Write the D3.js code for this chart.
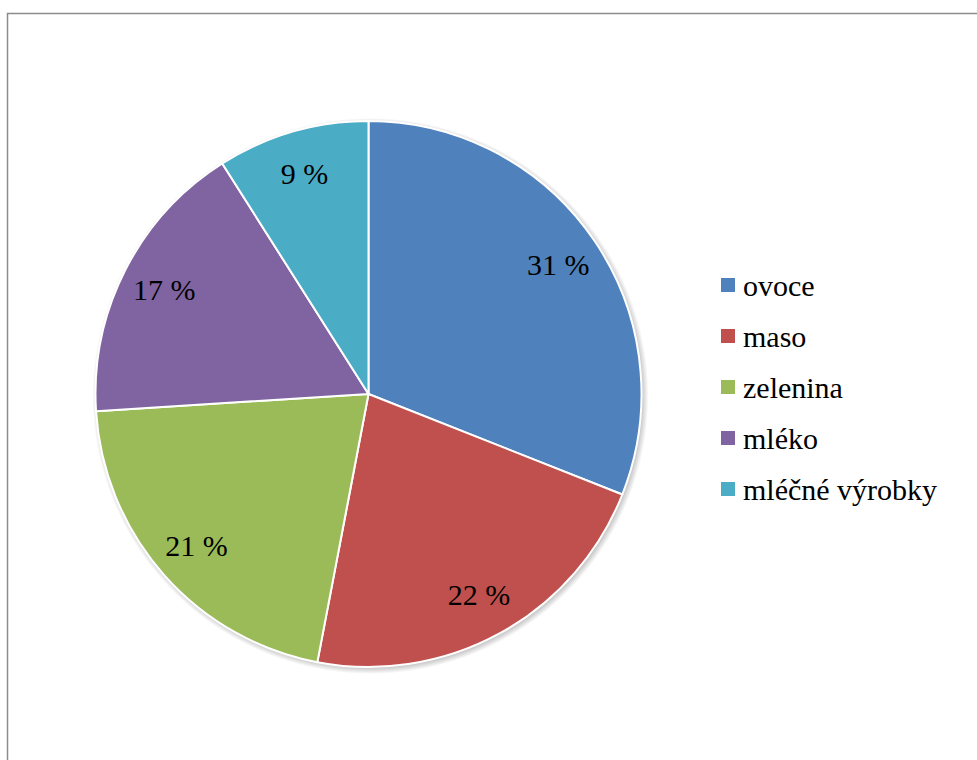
<!DOCTYPE html>
<html>
<head>
<meta charset="utf-8">
<script src="https://cdn.jsdelivr.net/npm/d3@7"></script>
<style>
  html, body { margin: 0; padding: 0; background: #fff; font-family: "Liberation Serif", "Tinos", serif !important; }
  svg { display: block; font-family: "Liberation Serif", "Tinos", serif !important; }
  svg text, text.lbl, text.key { font-family: "Liberation Serif", "Tinos", serif !important; font-size: 30px !important; fill: #000; }
</style>
</head>
<body>
<svg id="s" width="977" height="760" font-family="Liberation Serif"></svg>
<script>
// Podíl skupin potravin
const categories = ["ovoce", "maso", "zelenina", "mléko", "mléčné výrobky"];
const values = [31, 22, 21, 17, 9];
const colors = ["#4F81BD", "#C0504D", "#9BBB59", "#8064A2", "#4BACC6"];

const svg = d3.select("#s");
const W = 977, H = 760;

// chart area frame
svg.append("rect")
  .attr("x", 7.5).attr("y", 13.5)
  .attr("width", W + 20).attr("height", H + 20)
  .attr("fill", "#fff")
  .attr("stroke", "#8c8c8c")
  .attr("stroke-width", 1.5);

const cx = 368.5, cy = 394, R = 273;
const data = categories.map((c, i) => ({ name: c, value: values[i], color: colors[i] }));

// soft shadow under the pie, as a radial fade
const grad = svg.append("defs").append("radialGradient").attr("id", "pieShadow");
grad.append("stop").attr("offset", `${(R - 4) / (R + 5) * 100}%`).attr("stop-color", "#000").attr("stop-opacity", 0.3);
grad.append("stop").attr("offset", "100%").attr("stop-color", "#000").attr("stop-opacity", 0);
svg.append("circle")
  .attr("cx", cx + 2).attr("cy", cy + 2).attr("r", R + 5)
  .attr("fill", "url(#pieShadow)");

const pie = d3.pie().value(d => d.value).sort(null);
const arcs = pie(data);
const arc = d3.arc().innerRadius(0).outerRadius(R);
const labelArc = d3.arc().innerRadius(R * 0.84).outerRadius(R * 0.84);

const g = svg.append("g").attr("transform", `translate(${cx},${cy})`);

g.selectAll("path.slice")
  .data(arcs)
  .join("path")
  .attr("class", "slice")
  .attr("d", arc)
  .attr("fill", d => d.data.color)
  .attr("stroke", "#fff")
  .attr("stroke-width", 2)
  .attr("stroke-linejoin", "round");

// percentage labels
svg.selectAll("text.lbl")
  .data(arcs)
  .join("text")
  .attr("class", "lbl")
  .attr("x", d => cx + labelArc.centroid(d)[0])
  .attr("y", d => cy + labelArc.centroid(d)[1] + 10)
  .attr("text-anchor", "middle")
  .attr("font-family", "Liberation Serif")
  .attr("font-size", 30)
  .text(d => `${d.data.value} %`);

// legend
const legendX = 721, legendY0 = 285, legendStep = 51;
svg.selectAll("rect.key")
  .data(data)
  .join("rect")
  .attr("class", "key")
  .attr("x", legendX)
  .attr("y", (d, i) => legendY0 + i * legendStep - 7)
  .attr("width", 14).attr("height", 14)
  .attr("fill", d => d.color);
svg.selectAll("text.key")
  .data(data)
  .join("text")
  .attr("class", "key")
  .attr("x", legendX + 22)
  .attr("y", (d, i) => legendY0 + i * legendStep + 11)
  .attr("font-family", "Liberation Serif")
  .attr("font-size", 30)
  .text(d => d.name);
</script>
</body>
</html>
